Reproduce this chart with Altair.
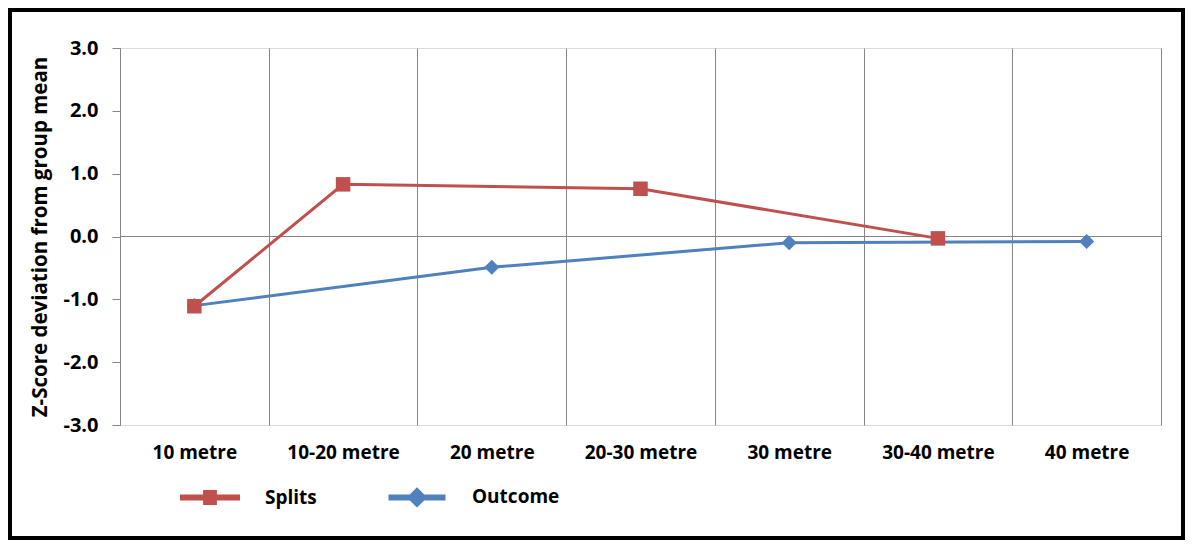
import altair as alt
import pandas as pd

categories = ["10 metre", "10-20 metre", "20 metre", "20-30 metre", "30 metre", "30-40 metre", "40 metre"]
series_names = ["Splits", "Outcome"]
series_colors = ["#C0504D", "#4F81BD"]

splits_cats = ["10 metre", "10-20 metre", "20-30 metre", "30-40 metre"]
splits_vals = [-1.11, 0.83, 0.76, -0.03]
outcome_cats = ["10 metre", "20 metre", "30 metre", "40 metre"]
outcome_vals = [-1.10, -0.49, -0.10, -0.08]
y_ticks = [-3, -2, -1, 0, 1, 2, 3]

df_s = pd.DataFrame({"cat": splits_cats, "value": splits_vals, "series": "Splits"})
df_o = pd.DataFrame({"cat": outcome_cats, "value": outcome_vals, "series": "Outcome"})
df_zero = pd.DataFrame({"value": [0]})
df_frame = pd.DataFrame({"k": [0]})
df_leg = pd.DataFrame({"series": series_names, "cat": categories[:2], "value": [0, 0]})

W, H = 1041, 377
FONT = "Open Sans"
GRID = "#868686"

xscale = alt.Scale(type="band", domain=categories, paddingInner=0, paddingOuter=0)
yscale = alt.Scale(domain=[-3, 3], nice=False)
cscale = alt.Scale(domain=series_names, range=series_colors)

sq_path = "M-1,-0.1H1V0.1H-1Z M-0.23,-0.25H0.23V0.25H-0.23Z"
di_path = "M-0.95,-0.1H0.95V0.1H-0.95Z M0,-0.34L0.34,0L0,0.34L-0.34,0Z"
sscale = alt.Scale(domain=series_names, range=[sq_path, di_path])

legend = alt.Legend(orient="none", legendX=60, legendY=419, direction="horizontal",
                    title=None, labelFont=FONT, labelFontSize=19, labelFontWeight="bold",
                    labelColor="black", labelOffset=25, columnPadding=70,
                    symbolSize=3600, symbolStrokeWidth=0, padding=0)

xaxis = alt.Axis(title=None, ticks=False, domain=False, grid=True, tickBand="extent",
                 gridColor=GRID, gridWidth=1, labelAngle=0, labelFont=FONT,
                 labelFontSize=19, labelFontWeight="bold", labelColor="black",
                 labelPadding=18)
yaxis = alt.Axis(title="Z-Score deviation from group mean", values=y_ticks, grid=False,
                 labelExpr="datum.value < 0 ? '-' + format(-datum.value, '.1f') : format(datum.value, '.1f')",
                 domainColor=GRID, tickColor=GRID, tickSize=8, labelPadding=14,
                 labelFont=FONT, labelFontSize=20, labelFontWeight="bold", labelColor="black",
                 titleFont=FONT, titleFontSize=20.5, titleFontWeight="bold", titleColor="black",
                 titlePadding=12)

X = alt.X("cat:N", scale=xscale, axis=xaxis, bandPosition=0.5, sort=categories)
Y = alt.Y("value:Q", scale=yscale, axis=yaxis)
C = alt.Color("series:N", scale=cscale, legend=legend)

base_layer = alt.Chart(df_zero).mark_rule(color=GRID, strokeWidth=1).encode(y=alt.Y("value:Q", scale=yscale))

def series_layers(df, shape, size):
    line = alt.Chart(df).mark_line(strokeWidth=3).encode(x=X, y=Y, color=C)
    pts = alt.Chart(df).mark_point(filled=True, opacity=1, shape=shape, size=size).encode(x=X, y=Y, color=C)
    return line, pts

o_line, o_pts = series_layers(df_o, "diamond", 230)
s_line, s_pts = series_layers(df_s, "square", 210)

legend_layer = alt.Chart(df_leg).mark_point(filled=True, opacity=1, size=3600).encode(
    x=X, y=Y, color=C, shape=alt.Shape("series:N", scale=sscale, legend=legend)
).transform_filter("false")

frame = alt.Chart(df_frame).mark_rect(filled=False, stroke="black", strokeWidth=4).encode(
    x=alt.value(-110), x2=alt.value(1063), y=alt.value(-38), y2=alt.value(490)
)

chart = alt.layer(base_layer, o_line, o_pts, s_line, s_pts, legend_layer, frame).properties(
    width=W, height=H,
    padding={"left": 112, "top": 40, "right": 24, "bottom": 115},
    autosize=alt.AutoSizeParams(type="none"),
).configure_view(stroke=None).configure(background="white")

chart.save("out.html", embed_options={"renderer": "svg", "actions": False})
